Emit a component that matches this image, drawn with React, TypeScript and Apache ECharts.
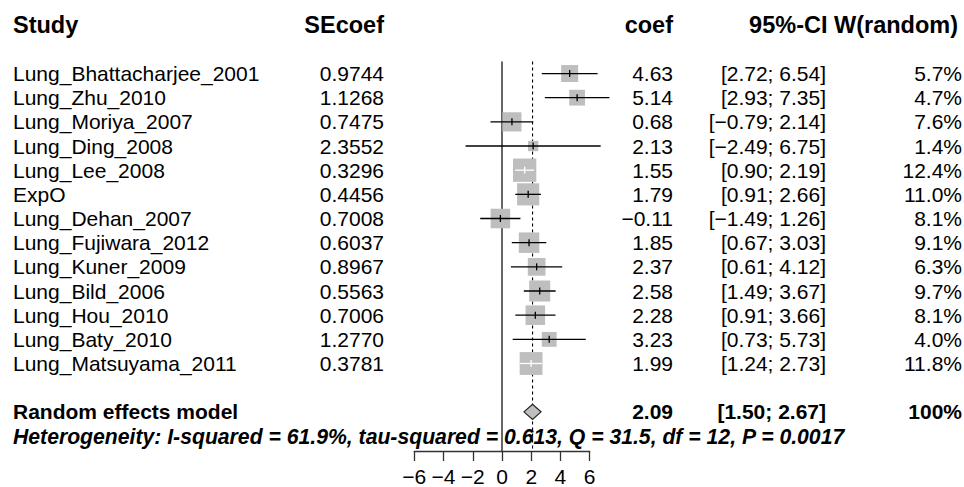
import React, { useEffect, useRef } from "react";
import * as echarts from "echarts";

const studies = [
  "Lung_Bhattacharjee_2001",
  "Lung_Zhu_2010",
  "Lung_Moriya_2007",
  "Lung_Ding_2008",
  "Lung_Lee_2008",
  "ExpO",
  "Lung_Dehan_2007",
  "Lung_Fujiwara_2012",
  "Lung_Kuner_2009",
  "Lung_Bild_2006",
  "Lung_Hou_2010",
  "Lung_Baty_2010",
  "Lung_Matsuyama_2011",
];
const seCoef = [0.9744, 1.1268, 0.7475, 2.3552, 0.3296, 0.4456, 0.7008, 0.6037, 0.8967, 0.5563, 0.7006, 1.277, 0.3781];
const coef = [4.63, 5.14, 0.68, 2.13, 1.55, 1.79, -0.11, 1.85, 2.37, 2.58, 2.28, 3.23, 1.99];
const lower = [2.72, 2.93, -0.79, -2.49, 0.9, 0.91, -1.49, 0.67, 0.61, 1.49, 0.91, 0.73, 1.24];
const upper = [6.54, 7.35, 2.14, 6.75, 2.19, 2.66, 1.26, 3.03, 4.12, 3.67, 3.66, 5.73, 2.73];
const weights = [5.7, 4.7, 7.6, 1.4, 12.4, 11.0, 8.1, 9.1, 6.3, 9.7, 8.1, 4.0, 11.8];

const pooledLabel = "Random effects model";
const pooledEst = 2.09;
const pooledLower = 1.5;
const pooledUpper = 2.67;
const pooledWeight = "100%";
const heterogeneityText =
  "Heterogeneity: I-squared = 61.9%, tau-squared = 0.613, Q = 31.5, df = 12, P = 0.0017";
const headerLabels = ["Study", "SEcoef", "coef", "95%-CI W(random)"];
const xMin = -6;
const xMax = 6;
const xInterval = 2;

// row layout (y axis is in row units)
const HEADER_ROW = 0;
const FIRST_STUDY_ROW = 2;
const POOLED_ROW = FIRST_STUDY_ROW + studies.length + 1;
const HET_ROW = POOLED_ROW + 1;

const FONT = "'Liberation Sans', Arial, Helvetica, sans-serif";
const FS = 21;
const HFS = 23.5;
const AXIS_OFFSET = 15;

const minus = (s: string) => s.replace(/-/g, "\u2212");
const f2 = (v: number) => minus(v.toFixed(2));

// column x positions (pixels)
const COL = {
  study: 13,
  se: 384,
  coef: 673,
  ci: 826,
  w: 962,
  wHead: 958,
};

type Cell = { x: number; text: string; align: "left" | "right"; bold?: boolean; italic?: boolean; size?: number };
type TextRow = { row: number; cells: Cell[] };

const textRows: TextRow[] = [];
textRows.push({
  row: HEADER_ROW,
  cells: [
    { x: COL.study, text: headerLabels[0], align: "left", bold: true, size: HFS },
    { x: COL.se, text: headerLabels[1], align: "right", bold: true, size: HFS },
    { x: COL.coef, text: headerLabels[2], align: "right", bold: true, size: HFS },
    { x: COL.wHead, text: headerLabels[3], align: "right", bold: true, size: HFS },
  ],
});
studies.forEach((s, i) => {
  textRows.push({
    row: FIRST_STUDY_ROW + i,
    cells: [
      { x: COL.study, text: s, align: "left" },
      { x: COL.se, text: seCoef[i].toFixed(4), align: "right" },
      { x: COL.coef, text: f2(coef[i]), align: "right" },
      { x: COL.ci, text: `[${f2(lower[i])}; ${f2(upper[i])}]`, align: "right" },
      { x: COL.w, text: weights[i].toFixed(1) + "%", align: "right" },
    ],
  });
});
textRows.push({
  row: POOLED_ROW,
  cells: [
    { x: COL.study, text: pooledLabel, align: "left", bold: true },
    { x: COL.coef, text: f2(pooledEst), align: "right", bold: true },
    { x: COL.ci, text: `[${f2(pooledLower)}; ${f2(pooledUpper)}]`, align: "right", bold: true },
    { x: COL.w, text: pooledWeight, align: "right", bold: true },
  ],
});
textRows.push({
  row: HET_ROW,
  cells: [{ x: COL.study, text: heterogeneityText, align: "left", bold: true, italic: true, size: 21.2 }],
});

const studyData = studies.map((_, i) => [coef[i], FIRST_STUDY_ROW + i, lower[i], upper[i], weights[i]]);

export default function App() {
  const ref = useRef<HTMLDivElement>(null);
  useEffect(() => {
    if (!ref.current) return;
    const chart = echarts.init(ref.current, undefined, { renderer: "svg" });
    const W = 964;
    const H = 487;
    const gridLeft = 414.3;
    const gridRight = W - 589.7;
    const gridTop = 25.2;
    const rowH = 24.42;
    const gridHeight = rowH * HET_ROW;
    const gridBottom = H - gridTop - gridHeight;

    chart.setOption({
      animation: false,
      backgroundColor: "#ffffff",
      grid: { left: gridLeft, right: gridRight, top: gridTop, bottom: gridBottom, containLabel: false },
      xAxis: {
        type: "value",
        min: xMin,
        max: xMax,
        interval: xInterval,
        position: "bottom",
        offset: AXIS_OFFSET,
        splitLine: { show: false },
        axisLine: { show: true, onZero: false, lineStyle: { color: "#333", width: 1.3 } },
        axisTick: { show: true, length: 10, lineStyle: { color: "#333", width: 1.3 } },
        axisLabel: {
          margin: 15,
          color: "#000",
          fontSize: FS,
          fontFamily: FONT,
          formatter: (v: number) => minus(String(v)),
        },
      },
      yAxis: {
        type: "value",
        min: 0,
        max: HET_ROW,
        inverse: true,
        show: false,
      },
      series: [
        {
          type: "custom",
          name: "reference",
          clip: false,
          data: [[0, 1.5, 0], [pooledEst, 1.5, 1]],
          renderItem: (params: any, api: any) => {
            const x = api.value(0);
            const dashed = api.value(2) === 1;
            const p0 = api.coord([x, api.value(1)]);
            const cs = params.coordSys;
            const yEnd = cs.y + cs.height + AXIS_OFFSET;
            return {
              type: "line",
              shape: { x1: p0[0], y1: p0[1], x2: p0[0], y2: yEnd },
              style: dashed
                ? { stroke: "#000", lineWidth: 1.1, lineDash: [3, 3] }
                : { stroke: "#333", lineWidth: 1.5 },
            };
          },
        },
        {
          type: "custom",
          name: "studies",
          clip: false,
          data: studyData,
          renderItem: (params: any, api: any) => {
            const est = api.value(0);
            const row = api.value(1);
            const lo = api.value(2);
            const hi = api.value(3);
            const w = api.value(4);
            const c = api.coord([est, row]);
            const pl = api.coord([lo, row]);
            const pu = api.coord([hi, row]);
            const size = 3.75 + 5.55 * Math.sqrt(w);
            const half = size / 2;
            const inside = pl[0] >= c[0] - half && pu[0] <= c[0] + half;
            const lineColor = inside ? "#ffffff" : "#000000";
            return {
              type: "group",
              children: [
                {
                  type: "rect",
                  shape: { x: c[0] - half, y: c[1] - half, width: size, height: size },
                  style: { fill: "#bebebe" },
                },
                {
                  type: "line",
                  shape: { x1: pl[0], y1: c[1], x2: pu[0], y2: c[1] },
                  style: { stroke: lineColor, lineWidth: 1.3 },
                },
                {
                  type: "line",
                  shape: { x1: c[0], y1: c[1] - 3.5, x2: c[0], y2: c[1] + 3.5 },
                  style: { stroke: lineColor, lineWidth: 1.3 },
                },
              ],
            };
          },
        },
        {
          type: "custom",
          name: "pooled",
          clip: false,
          data: [[pooledEst, POOLED_ROW, pooledLower, pooledUpper]],
          renderItem: (params: any, api: any) => {
            const c = api.coord([api.value(0), api.value(1)]);
            const pl = api.coord([api.value(2), api.value(1)]);
            const pu = api.coord([api.value(3), api.value(1)]);
            const h = 7.5;
            return {
              type: "polygon",
              shape: {
                points: [
                  [pl[0], c[1]],
                  [c[0], c[1] - h],
                  [pu[0], c[1]],
                  [c[0], c[1] + h],
                ],
              },
              style: { fill: "#bebebe", stroke: "#222", lineWidth: 1.2 },
            };
          },
        },
        {
          type: "custom",
          name: "texts",
          clip: false,
          data: textRows.map((r, i) => [0, r.row, i]),
          renderItem: (params: any, api: any) => {
            const tr = textRows[api.value(2)];
            const y = api.coord([0, api.value(1)])[1];
            return {
              type: "group",
              children: tr.cells.map((cell) => ({
                type: "text",
                x: cell.x,
                y,
                style: {
                  text: cell.text,
                  align: cell.align,
                  verticalAlign: "middle",
                  fontSize: cell.size || FS,
                  fontFamily: FONT,
                  fontWeight: cell.bold ? "bold" : "normal",
                  fontStyle: cell.italic ? "italic" : "normal",
                  fill: "#000",
                },
              })),
            };
          },
        },
      ],
    });
    return () => chart.dispose();
  }, []);
  return (
    <div
      ref={ref}
      style={{ position: "absolute", left: 0, top: 0, width: 964, height: 487, background: "#fff" }}
    />
  );
}
